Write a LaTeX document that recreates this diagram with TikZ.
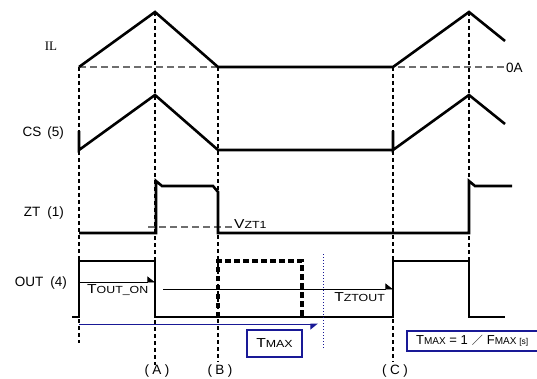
\documentclass[tikz,border=0pt]{standalone}
\usepackage{fontspec}
\setmainfont{Liberation Sans}
\newfontfamily\wide[FakeStretch=1.2]{Liberation Sans}
\newfontfamily\cjk{Noto Sans CJK JP}
\newfontfamily\serifIL{Liberation Serif}
\usetikzlibrary{arrows.meta}
\definecolor{navyb}{RGB}{25,25,150}
\definecolor{dgray}{RGB}{110,110,110}
\newcommand\smc[1]{{\fontsize{10.3}{12}\selectfont #1}}
\newcommand\pp[1]{(\hspace{3.5pt}#1\hspace{3.5pt})}
\begin{document}
\begin{tikzpicture}[x=1pt,y=-1pt,
  sig/.style={line width=2.6pt, line join=miter, line cap=butt},
  guide/.style={line width=1.1pt, dash pattern=on 4pt off 3pt},
  refline/.style={dgray, line width=1.3pt, dash pattern=on 7pt off 4pt},
  lbl/.style={font=\fontsize{13.5}{16}\selectfont, inner sep=0pt},
  tlbl/.style={font=\wide\fontsize{13}{15}\selectfont, inner sep=0pt},
  thinarr/.style={line width=0.8pt, -{Triangle[harpoon, length=7pt, width=11pt]}},
  bluearr/.style={navyb, line width=1pt, -{Triangle[harpoon, swap, length=7pt, width=11pt]}},
  bluebox/.style={draw=navyb, line width=1.1pt, fill=white, inner sep=0pt}]
\useasboundingbox (0,0) rectangle (537,379);

% vertical guides
\draw[guide] (79,67) -- (79,343);
\draw[guide] (155,12) -- (155,365);
\draw[guide] (218,67) -- (218,362);
\draw[guide] (393,67) -- (393,362);
\draw[guide] (469,12) -- (469,261);

% reference lines
\draw[refline] (79,67) -- (505,67);
\draw[refline] (148,227) -- (232,227);

% IL
\draw[sig] (79,67) -- (155,12) -- (218,67) -- (393,67) -- (469,12) -- (505,41);
% CS
\draw[sig] (79,131) -- (79,150) -- (155,95) -- (218,150) -- (393,150);
\draw[sig] (393,131) -- (393,150) -- (469,95) -- (505,124);
% ZT
\draw[sig] (79,233) -- (156,233) -- (156,181) -- (162,186) -- (213,186) -- (218,192) -- (218,233) -- (469,233) -- (469,181) -- (475,186) -- (512,186);
% OUT
\draw[sig] (72,317) -- (79,317) -- (79,261) -- (155,261) -- (155,317) -- (393,317) -- (393,261) -- (469,261) -- (469,317) -- (505,317);
\draw[line width=3.2pt, dash pattern=on 5.5pt off 3.5pt] (218,317) -- (218,261) -- (302,261) -- (302,317);

% timing arrows
\coordinate (ton1) at (79,282);
\coordinate (ton2) at (155,282);
\draw[thinarr] (ton1) -- (ton2);
\coordinate (tz1) at (163,289);
\coordinate (tz2) at (393,289);
\draw[thinarr] (tz1) -- (tz2);
\coordinate (tm1) at (79,324);
\coordinate (tm2) at (318,324);
\draw[bluearr] (tm1) -- (tm2);
\coordinate (dv1) at (323,254);
\coordinate (dv2) at (323,349);
\draw[navyb, line width=1pt, dotted] (dv1) -- (dv2);

% labels
\node[font=\serifIL\fontsize{13}{15}\selectfont, inner sep=0pt] (il) at (51,46) {IL};
\node[lbl, anchor=east] (cs) at (64,133) {CS\hspace{6pt}(5)};
\node[lbl, anchor=east] (zt) at (64,213) {ZT\hspace{7pt}(1)};
\node[lbl, anchor=east] (out) at (67,283) {OUT\hspace{7pt}(4)};
\node[lbl, anchor=west] (zero) at (506,68) {0A};
\node[tlbl, anchor=west] (vzt) at (234,224) {V\smc{ZT1}};
\node[tlbl, anchor=west] (tout) at (87,290) {T\smc{OUT\_ON}};
\node[tlbl, anchor=east] (tzt) at (385,297) {T\smc{ZTOUT}};
\node[bluebox, minimum width=55pt, minimum height=27pt, font=\wide\fontsize{13}{15}\selectfont] (tmax) at (274.5,343.5) {T\smc{MAX}};
\draw[navyb, line width=1.1pt] (407,331) rectangle (560,351);
\node[font=\fontsize{13}{15}\selectfont, inner sep=0pt, anchor=west] (form) at (416,341) {T{\fontsize{10}{11}\selectfont MAX} = 1\hspace{4pt}{\cjk\fontsize{11}{13}\selectfont／}\hspace{4pt}F{\fontsize{10}{11}\selectfont MAX {\fontsize{8.5}{10}\selectfont[s]}}};
\node[lbl] (a) at (157,371) {\pp{A}};
\node[lbl] (b) at (220,371) {\pp{B}};
\node[lbl] (c) at (395,371) {\pp{C}};
\end{tikzpicture}
\end{document}
